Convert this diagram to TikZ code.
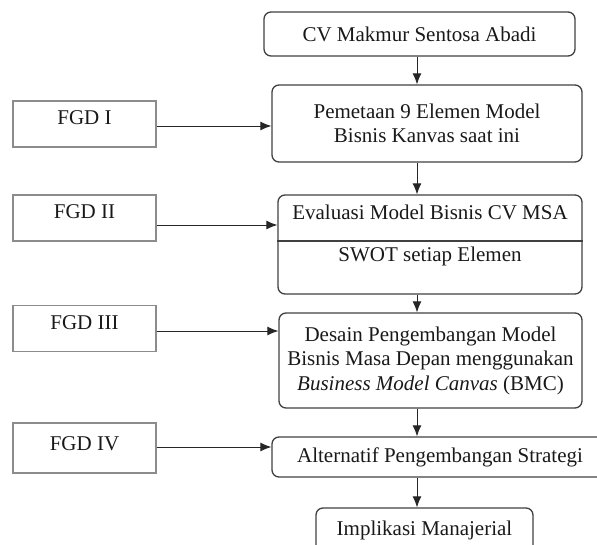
\documentclass[tikz,border=0pt]{standalone}
\usepackage{fontspec}
\setmainfont{Liberation Serif}
\usetikzlibrary{arrows.meta,positioning}
\newcommand{\feed}[3]{\draw[flowline] ([yshift=#1]#2.east) -- ([yshift=#1]#2.east -| #3.west)}
\newcommand{\flow}[2]{\draw[flowline] (#1.south -| axis) -- (#2.north -| axis)}

\begin{document}
\begin{tikzpicture}[x=1pt, y=-1pt,
    font=\fontsize{21}{24.5}\selectfont,
    flowline/.style={-{Latex[length=11pt,width=9pt]}, line width=0.9pt, black!85},
    stage/.style={draw=black!75, line width=1.3pt, rounded corners=7pt, align=center, inner sep=0pt, text=black!90},
    fgd/.style={draw=black!45, line width=1.3pt, minimum width=143pt, inner sep=0pt,
        text height=24pt, text depth=22pt, text=black!90}]
    \useasboundingbox (0,0) rectangle (597,545);
    % main column
    \node[stage, minimum width=311pt, minimum height=44pt] (cv) at (419.5,34) {CV Makmur Sentosa Abadi};
    \node[stage, minimum width=310pt, minimum height=77pt] (map) at (427,123.5) {Pemetaan 9 Elemen Model\\Bisnis Kanvas saat ini};
    \node[stage, minimum width=304pt, minimum height=99pt] (eval) at (430,244.5) {};
    \node[anchor=base, text=black!90] (evaltop) at (430,220) {Evaluasi Model Bisnis CV MSA};
    \node[anchor=base, text=black!90] (swot) at (430,262) {SWOT setiap Elemen};
    \coordinate (split) at (0,241);
    \draw[line width=1.3pt, black!75] (eval.west |- split) -- (eval.east |- split);
    \node[stage, minimum width=303pt, minimum height=95pt] (design) at (430.5,360.5) {Desain Pengembangan Model\\Bisnis Masa Depan menggunakan\\\textit{Business Model Canvas} (BMC)};
    \node[stage, minimum width=336pt, minimum height=40pt] (alt) at (440,457) {Alternatif Pengembangan Strategi};
    \node[stage, minimum width=217pt, minimum height=44pt] (impl) at (424.5,530) {Implikasi Manajerial};
    % FGD boxes
    \node[fgd] (fgd1) at (84.5,124) {FGD I};
    \node[fgd] (fgd2) at (84.5,218) {FGD II};
    \node[fgd] (fgd3) at (84.5,328.5) {FGD III};
    \node[fgd, text height=27pt, text depth=23pt] (fgd4) at (84.5,448) {FGD IV};
    % arrows
    \coordinate (axis) at (417,0);
    \flow{cv}{map};
    \flow{map}{eval};
    \flow{eval}{design};
    \flow{design}{alt};
    \flow{alt}{impl};
    \feed{-2pt}{fgd1}{map};
    \feed{-7pt}{fgd2}{eval};
    \feed{-2.5pt}{fgd3}{design};
    \feed{1pt}{fgd4}{alt};
\end{tikzpicture}
\end{document}
